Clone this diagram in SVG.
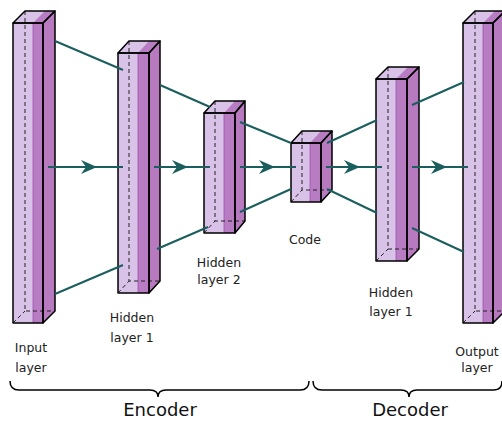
<svg xmlns="http://www.w3.org/2000/svg" width="502" height="421" viewBox="0 0 502 421">
<style>
.lt{fill:#d9c2e8}
.dk{fill:#b87cc2}
.sd{fill:#b77abf}
.ol{fill:none;stroke:#000;stroke-width:1.5;stroke-linejoin:round}
.hd{fill:none;stroke:#222;stroke-width:1;stroke-dasharray:4,3}
.sp{stroke:#a050b0;stroke-width:0.8}
.cn{fill:none;stroke:#1b5e5e;stroke-width:2}
.ah{fill:#1b5e5e}
.lb{font-family:"DejaVu Sans",sans-serif;font-size:12.5px;fill:#222;text-anchor:middle}
.bl{font-family:"DejaVu Sans",sans-serif;font-size:18px;fill:#111;text-anchor:middle}
.br{fill:none;stroke:#000;stroke-width:1.5}
</style>
<defs>
<path id="arr" d="M0,0 L-16,-7 L-11,0 L-16,7 Z"/>
</defs>

<g id="input-layer">
<rect class="lt" x="13" y="23" width="20" height="300"/>
<rect class="dk" x="33" y="23" width="10" height="300"/>
<polygon class="sd" points="43,23 55,11 55,311 43,323"/>
<polygon class="lt" points="13,23 25,11 55,11 43,23"/>
<polygon class="dk" points="33,23 45,11 55,11 43,23"/>
<line class="sp" x1="33" y1="23" x2="33" y2="323"/>
<path class="hd" d="M25,11 V311 H55 M13,323 L25,311"/>
<rect class="ol" x="13" y="23" width="30" height="300"/>
<polygon class="ol" points="13,23 25,11 55,11 43,23"/>
<polygon class="ol" points="43,23 55,11 55,311 43,323"/>
</g>

<g id="enc-hidden-1">
<rect class="lt" x="118" y="53" width="20" height="240"/>
<rect class="dk" x="138" y="53" width="11" height="240"/>
<polygon class="sd" points="149,53 160,41 160,281 149,293"/>
<polygon class="lt" points="118,53 129,41 160,41 149,53"/>
<polygon class="dk" points="138,53 149,41 160,41 149,53"/>
<line class="sp" x1="138" y1="53" x2="138" y2="293"/>
<path class="hd" d="M129,41 V281 H160 M118,293 L129,281"/>
<rect class="ol" x="118" y="53" width="31" height="240"/>
<polygon class="ol" points="118,53 129,41 160,41 149,53"/>
<polygon class="ol" points="149,53 160,41 160,281 149,293"/>
</g>

<g id="enc-hidden-2">
<rect class="lt" x="204" y="113" width="20" height="120"/>
<rect class="dk" x="224" y="113" width="11" height="120"/>
<polygon class="sd" points="235,113 245,101 245,221 235,233"/>
<polygon class="lt" points="204,113 215,101 245,101 235,113"/>
<polygon class="dk" points="224,113 235,101 245,101 235,113"/>
<line class="sp" x1="224" y1="113" x2="224" y2="233"/>
<path class="hd" d="M215,101 V221 H245 M204,233 L215,221"/>
<rect class="ol" x="204" y="113" width="31" height="120"/>
<polygon class="ol" points="204,113 215,101 245,101 235,113"/>
<polygon class="ol" points="235,113 245,101 245,221 235,233"/>
</g>

<g id="code">
<rect class="lt" x="291" y="143" width="19" height="59"/>
<rect class="dk" x="310" y="143" width="11" height="59"/>
<polygon class="sd" points="321,143 332,131 332,190 321,202"/>
<polygon class="lt" points="291,143 302,131 332,131 321,143"/>
<polygon class="dk" points="310,143 321,131 332,131 321,143"/>
<line class="sp" x1="310" y1="143" x2="310" y2="202"/>
<path class="hd" d="M302,131 V190 H332 M291,202 L302,190"/>
<rect class="ol" x="291" y="143" width="30" height="59"/>
<polygon class="ol" points="291,143 302,131 332,131 321,143"/>
<polygon class="ol" points="321,143 332,131 332,190 321,202"/>
</g>

<g id="dec-hidden-1">
<rect class="lt" x="376" y="79" width="20" height="182"/>
<rect class="dk" x="396" y="79" width="11" height="182"/>
<polygon class="sd" points="407,79 419,67 419,249 407,261"/>
<polygon class="lt" points="376,79 388,67 419,67 407,79"/>
<polygon class="dk" points="396,79 408,67 419,67 407,79"/>
<line class="sp" x1="396" y1="79" x2="396" y2="261"/>
<path class="hd" d="M388,67 V249 H419 M376,261 L388,249"/>
<rect class="ol" x="376" y="79" width="31" height="182"/>
<polygon class="ol" points="376,79 388,67 419,67 407,79"/>
<polygon class="ol" points="407,79 419,67 419,249 407,261"/>
</g>

<g id="output-layer">
<rect class="lt" x="463" y="23" width="20" height="300"/>
<rect class="dk" x="483" y="23" width="10" height="300"/>
<polygon class="sd" points="493,23 505,11 505,311 493,323"/>
<polygon class="lt" points="463,23 475,11 505,11 493,23"/>
<polygon class="dk" points="483,23 495,11 505,11 493,23"/>
<line class="sp" x1="483" y1="23" x2="483" y2="323"/>
<path class="hd" d="M475,11 V311 H505 M463,323 L475,311"/>
<rect class="ol" x="463" y="23" width="30" height="300"/>
<polygon class="ol" points="463,23 475,11 505,11 493,23"/>
<polygon class="ol" points="493,23 505,11 505,311 493,323"/>
</g>

<g id="connectors">
<line class="cn" x1="55" y1="41" x2="123" y2="70"/>
<line class="cn" x1="55" y1="294" x2="123" y2="265"/>
<line class="cn" x1="48" y1="167" x2="123" y2="167"/>
<line class="cn" x1="160" y1="85" x2="210" y2="107"/>
<line class="cn" x1="157" y1="249" x2="208" y2="227"/>
<line class="cn" x1="154" y1="167" x2="210" y2="167"/>
<line class="cn" x1="240" y1="122" x2="291" y2="143"/>
<line class="cn" x1="240" y1="212" x2="291" y2="189"/>
<line class="cn" x1="240" y1="167" x2="296" y2="167"/>
<line class="cn" x1="327" y1="143" x2="377" y2="120"/>
<line class="cn" x1="327" y1="189" x2="377" y2="213"/>
<line class="cn" x1="326" y1="167" x2="382" y2="167"/>
<line class="cn" x1="412" y1="105" x2="464" y2="82"/>
<line class="cn" x1="412" y1="228" x2="464" y2="252"/>
<line class="cn" x1="412" y1="167" x2="468" y2="167"/>
<use href="#arr" class="ah" x="97" y="167"/>
<use href="#arr" class="ah" x="188" y="167"/>
<use href="#arr" class="ah" x="275" y="167"/>
<use href="#arr" class="ah" x="360" y="167"/>
<use href="#arr" class="ah" x="447" y="167"/>
</g>

<g id="labels">
<text class="lb" x="31" y="352">Input</text>
<text class="lb" x="31" y="372">layer</text>
<text class="lb" x="132" y="322">Hidden</text>
<text class="lb" x="132" y="342">layer 1</text>
<text class="lb" x="219" y="267">Hidden</text>
<text class="lb" x="219" y="284">layer 2</text>
<text class="lb" x="305" y="244">Code</text>
<text class="lb" x="391" y="297">Hidden</text>
<text class="lb" x="391" y="316">layer 1</text>
<text class="lb" x="477" y="356">Output</text>
<text class="lb" x="477" y="372">layer</text>
</g>

<g id="braces">
<path class="br" d="M10,381 Q10,390 19,390 H150 Q158,390 158,397 Q158,390 166,390 H300 Q309,390 309,381"/>
<path class="br" d="M313,381 Q313,390 322,390 H401 Q409,390 409,397 Q409,390 417,390 H494 Q502,390 502,381"/>
<text class="bl" x="160" y="416">Encoder</text>
<text class="bl" x="410" y="416">Decoder</text>
</g>
</svg>
